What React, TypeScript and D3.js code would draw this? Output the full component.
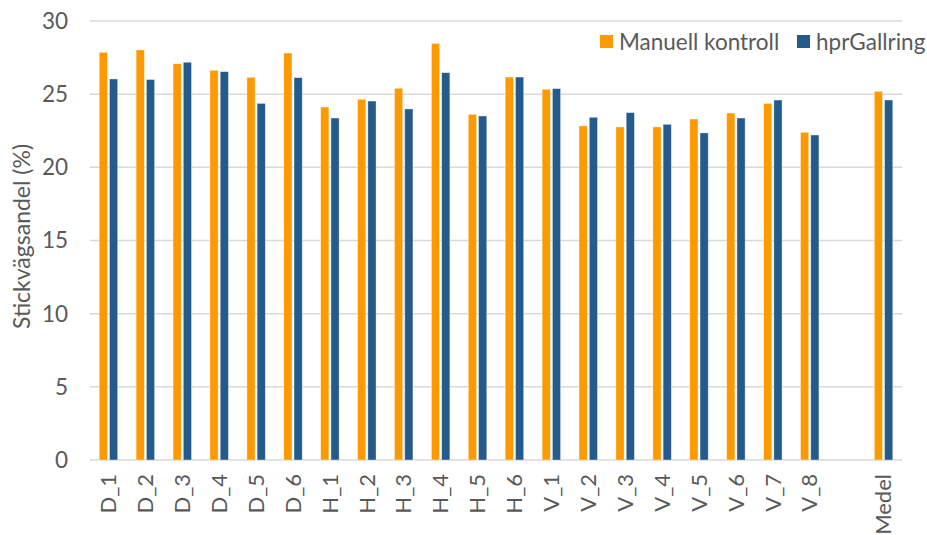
import React, { useEffect, useRef } from 'react';
import * as d3 from 'd3';

// Categories (the empty slot before "Medel" is a real gap in the chart)
const categories = [
  'D_1', 'D_2', 'D_3', 'D_4', 'D_5', 'D_6',
  'H_1', 'H_2', 'H_3', 'H_4', 'H_5', 'H_6',
  'V_1', 'V_2', 'V_3', 'V_4', 'V_5', 'V_6', 'V_7', 'V_8',
  '', 'Medel',
];

const manuell = [
  27.86, 28.02, 27.08, 26.63, 26.15, 27.81,
  24.12, 24.65, 25.40, 28.47, 23.62, 26.17,
  25.33, 22.83, 22.76, 22.76, 23.30, 23.71, 24.37, 22.39,
  null, 25.19,
];

const hpr = [
  26.04, 26.00, 27.18, 26.54, 24.37, 26.13,
  23.37, 24.53, 23.99, 26.47, 23.51, 26.17,
  25.38, 23.42, 23.74, 22.94, 22.35, 23.37, 24.60, 22.21,
  null, 24.60,
];

const seriesNames = ['Manuell kontroll', 'hprGallring'];
const seriesColors = ['#FF9900', '#245A8C'];
const yTicks = [0, 5, 10, 15, 20, 25, 30];

const W = 927;
const H = 535;
const FONT = 'Lato, "Liberation Sans", sans-serif';
const TEXT = '#595959';
const FS = 22.5;

interface Bar {
  cat: string;
  series: number;
  value: number;
}

const App: React.FC = () => {
  const svgRef = useRef<SVGSVGElement>(null);

  useEffect(() => {
    if (!svgRef.current) return;
    const svg = d3.select(svgRef.current);
    svg.selectAll('*').remove();

    const margin = { top: 21, right: 25, bottom: 75, left: 90 };
    const innerW = W - margin.left - margin.right;
    const innerH = H - margin.top - margin.bottom;

    const x = d3.scaleBand<string>()
      .domain(categories.map((c, i) => c || `gap${i}`))
      .range([0, innerW])
      .paddingInner(0.5)
      .paddingOuter(0.25);

    const xs = d3.scaleBand<number>()
      .domain([0, 1])
      .range([0, x.bandwidth()])
      .paddingInner(0.2);

    const y = d3.scaleLinear().domain([0, 30]).range([innerH, 0]);

    const g = svg.append('g').attr('transform', `translate(${margin.left},${margin.top})`);

    // gridlines
    g.selectAll('line.grid')
      .data(yTicks)
      .join('line')
      .attr('class', 'grid')
      .attr('x1', 0).attr('x2', innerW)
      .attr('y1', d => y(d)).attr('y2', d => y(d))
      .attr('stroke', '#d9d9d9')
      .attr('stroke-width', 1.5);

    // y tick labels
    g.selectAll('text.ytick')
      .data(yTicks)
      .join('text')
      .attr('class', 'ytick')
      .attr('x', -22)
      .attr('y', d => y(d))
      .attr('dy', '0.35em')
      .attr('text-anchor', 'end')
      .attr('font-family', FONT)
      .attr('font-size', FS)
      .attr('fill', TEXT)
      .text(d => d);

    // bars
    const bars: Bar[] = [];
    categories.forEach((c, i) => {
      const key = c || `gap${i}`;
      [manuell[i], hpr[i]].forEach((v, s) => {
        if (v !== null) bars.push({ cat: key, series: s, value: v });
      });
    });

    g.selectAll('rect.bar')
      .data(bars)
      .join('rect')
      .attr('class', 'bar')
      .attr('x', d => (x(d.cat) ?? 0) + (xs(d.series) ?? 0))
      .attr('y', d => y(d.value))
      .attr('width', xs.bandwidth())
      .attr('height', d => y(0) - y(d.value))
      .attr('fill', d => seriesColors[d.series])
      .attr('stroke', '#ffffff')
      .attr('stroke-opacity', 0.5)
      .attr('stroke-width', 0.75);

    // x labels (rotated)
    categories.forEach((c, i) => {
      if (!c) return;
      const cx = (x(c) ?? 0) + x.bandwidth() / 2;
      g.append('text')
        .attr('transform', `translate(${cx},${innerH + 14}) rotate(-90)`)
        .attr('text-anchor', 'end')
        .attr('dy', '0.35em')
        .attr('font-family', FONT)
        .attr('font-size', 22)
        .attr('fill', TEXT)
        .text(c);
    });

    // y axis title
    svg.append('text')
      .attr('transform', `translate(22,${margin.top + innerH / 2 - 4}) rotate(-90)`)
      .attr('text-anchor', 'middle')
      .attr('dy', '0.35em')
      .attr('font-family', FONT)
      .attr('font-size', 23)
      .attr('fill', TEXT)
      .text('Stickvägsandel (%)');

    // legend
    const legend = svg.append('g').attr('transform', 'translate(600,35)');
    const legendX = [0, 197];
    seriesNames.forEach((name, i) => {
      const lg = legend.append('g').attr('transform', `translate(${legendX[i]},0)`);
      lg.append('rect')
        .attr('width', 13).attr('height', 13)
        .attr('fill', seriesColors[i]);
      lg.append('text')
        .attr('x', 19)
        .attr('y', 7)
        .attr('dy', '0.35em')
        .attr('font-family', FONT)
        .attr('font-size', FS)
        .attr('fill', TEXT)
        .text(name);
    });
  }, []);

  return (
    <svg
      ref={svgRef}
      width={W}
      height={H}
      style={{ position: 'absolute', left: 0, top: 0, background: '#ffffff', display: 'block' }}
    />
  );
};

export default App;
